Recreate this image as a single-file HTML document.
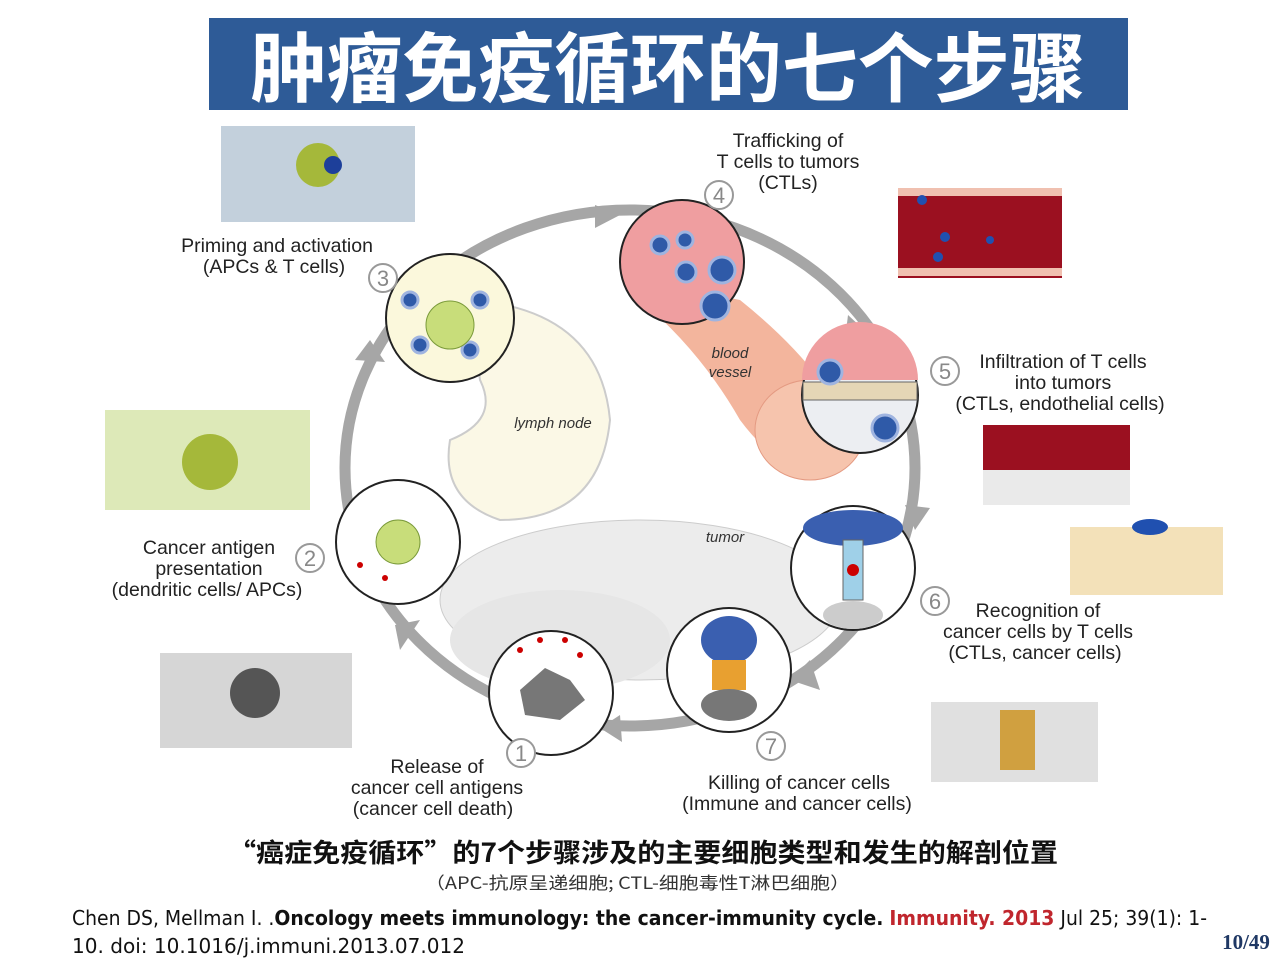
<!DOCTYPE html>
<html><head><meta charset="utf-8"><style>
body{margin:0;width:1280px;height:960px;background:#fff;overflow:hidden;font-family:"Liberation Sans","Noto Sans CJK SC",sans-serif}
</style></head><body>
<svg width="1280" height="960" viewBox="0 0 1280 960" xmlns="http://www.w3.org/2000/svg" font-family="Liberation Sans, Noto Sans CJK SC, sans-serif">
<rect x="209" y="18" width="919" height="92" fill="#2e5b97"/>
<text x="668" y="96" font-size="76" font-weight="bold" fill="#fff" text-anchor="middle" font-family="Noto Sans CJK SC, sans-serif" textLength="835" lengthAdjust="spacingAndGlyphs">肿瘤免疫循环的七个步骤</text>

<!-- tumor mass -->
<ellipse cx="640" cy="600" rx="200" ry="80" fill="#ececec" stroke="#ccc"/>
<ellipse cx="560" cy="640" rx="110" ry="50" fill="#e6e6e6"/>
<!-- lymph node -->
<path d="M470 300 Q600 310 610 420 Q600 520 500 520 Q440 500 450 440 Q500 420 480 380 Z" fill="#fbf8e6" stroke="#ccc" stroke-width="2"/>
<!-- blood vessel -->
<path d="M640 280 L740 300 Q790 340 820 380 L800 470 Q770 460 740 420 Q700 350 640 300 Z" fill="#f3b59d"/>
<ellipse cx="810" cy="430" rx="55" ry="50" fill="#f6c4ad" stroke="#e49a82"/>
<text x="730" y="358" font-size="15" font-style="italic" fill="#333" text-anchor="middle">blood</text>
<text x="730" y="377" font-size="15" font-style="italic" fill="#333" text-anchor="middle">vessel</text>
<text x="553" y="428" font-size="15" font-style="italic" fill="#333" text-anchor="middle">lymph node</text>
<text x="725" y="542" font-size="15" font-style="italic" fill="#333" text-anchor="middle">tumor</text>

<!-- ring -->
<ellipse cx="630" cy="468" rx="285" ry="258" fill="none" stroke="#a6a6a6" stroke-width="11"/>
<g fill="#a6a6a6">
<polygon points="355,360 370,340 385,362"/>
<polygon points="595,205 620,215 595,228"/>
<polygon points="848,315 875,340 845,340"/>
<polygon points="905,505 930,508 915,530"/>
<polygon points="810,660 820,690 790,680"/>
<polygon points="600,728 620,715 622,742"/>
<polygon points="395,625 420,620 400,650"/>
</g>

<!-- circles -->
<g stroke="#222" stroke-width="2">
<circle cx="450" cy="318" r="64" fill="#fbf8dc"/>
<circle cx="682" cy="262" r="62" fill="#ef9ea0"/>
<circle cx="860" cy="395" r="58" fill="#eceef2"/>
<circle cx="853" cy="568" r="62" fill="#fff"/>
<circle cx="729" cy="670" r="62" fill="#fff"/>
<circle cx="551" cy="693" r="62" fill="#fff"/>
<circle cx="398" cy="542" r="62" fill="#fff"/>
</g>
<path d="M802 380 A58 58 0 0 1 918 380 Z" fill="#ef9ea0"/>
<rect x="803" y="382" width="114" height="18" fill="#e5d6b6" stroke="#666"/>
<g fill="#2f5aa8" stroke="#9fb4e0" stroke-width="3">
<circle cx="660" cy="245" r="9"/><circle cx="685" cy="240" r="8"/><circle cx="686" cy="272" r="10"/><circle cx="722" cy="270" r="13"/><circle cx="715" cy="306" r="14"/>
<circle cx="830" cy="372" r="12"/><circle cx="885" cy="428" r="13"/>
<circle cx="410" cy="300" r="8"/><circle cx="480" cy="300" r="8"/><circle cx="420" cy="345" r="8"/><circle cx="470" cy="350" r="8"/>
</g>
<circle cx="450" cy="325" r="24" fill="#c8dd7a" stroke="#7a9a3a"/>
<circle cx="398" cy="542" r="22" fill="#c8dd7a" stroke="#7a9a3a"/>
<ellipse cx="853" cy="528" rx="50" ry="18" fill="#3a5fb0"/>
<rect x="843" y="540" width="20" height="60" fill="#9fd0e8" stroke="#666"/>
<circle cx="853" cy="570" r="6" fill="#c00"/>
<ellipse cx="853" cy="615" rx="30" ry="14" fill="#ccc"/>
<ellipse cx="729" cy="640" rx="28" ry="24" fill="#3a5fb0"/>
<rect x="712" y="660" width="34" height="30" fill="#e8a030"/>
<ellipse cx="729" cy="705" rx="28" ry="16" fill="#777"/>
<path d="M520 690 L545 668 L570 680 L585 700 L560 720 L525 715 Z" fill="#777"/>
<g fill="#c00"><circle cx="520" cy="650" r="3"/><circle cx="540" cy="640" r="3"/><circle cx="565" cy="640" r="3"/><circle cx="580" cy="655" r="3"/><circle cx="360" cy="565" r="3"/><circle cx="385" cy="578" r="3"/></g>

<!-- numbers -->
<g fill="#fff" stroke="#999" stroke-width="2"><circle cx="383" cy="278" r="14"/><circle cx="719" cy="195" r="14"/><circle cx="945" cy="371" r="14"/><circle cx="935" cy="601" r="14"/><circle cx="771" cy="746" r="14"/><circle cx="521" cy="753" r="14"/><circle cx="310" cy="558" r="14"/></g>
<g font-size="22" fill="#888" text-anchor="middle"><text x="383" y="286">3</text><text x="719" y="203">4</text><text x="945" y="379">5</text><text x="935" y="609">6</text><text x="771" y="754">7</text><text x="521" y="761">1</text><text x="310" y="566">2</text></g>

<!-- labels -->
<g font-size="19.5" fill="#222" text-anchor="middle">
<text x="788" y="147">Trafficking of</text><text x="788" y="168">T cells to tumors</text><text x="788" y="189">(CTLs)</text>
<text x="277" y="252">Priming and activation</text><text x="274" y="273">(APCs &amp; T cells)</text>
<text x="1063" y="368">Infiltration of T cells</text><text x="1063" y="389">into tumors</text><text x="1060" y="410">(CTLs, endothelial cells)</text>
<text x="209" y="554">Cancer antigen</text><text x="209" y="575">presentation</text><text x="207" y="596">(dendritic cells/ APCs)</text>
<text x="1038" y="617">Recognition of</text><text x="1038" y="638">cancer cells by T cells</text><text x="1035" y="659">(CTLs, cancer cells)</text>
<text x="437" y="773">Release of</text><text x="437" y="794">cancer cell antigens</text><text x="433" y="815">(cancer cell death)</text>
<text x="799" y="789">Killing of cancer cells</text><text x="797" y="810">(Immune and cancer cells)</text>
</g>

<!-- thumbnails -->
<rect x="221" y="126" width="194" height="96" fill="#c3d0dc"/>
<circle cx="318" cy="165" r="22" fill="#a5b83a"/><circle cx="333" cy="165" r="9" fill="#1d3f9a"/>
<rect x="105" y="410" width="205" height="100" fill="#dde9b8"/>
<circle cx="210" cy="462" r="28" fill="#a5b83a"/>
<rect x="160" y="653" width="192" height="95" fill="#d6d6d6"/>
<circle cx="255" cy="693" r="25" fill="#555"/>
<rect x="898" y="188" width="164" height="90" fill="#9b1020"/>
<rect x="898" y="188" width="164" height="8" fill="#f0c0b0"/>
<rect x="898" y="268" width="164" height="8" fill="#f0c0b0"/>
<g fill="#2050b0"><circle cx="922" cy="200" r="5"/><circle cx="945" cy="237" r="5"/><circle cx="938" cy="257" r="5"/><circle cx="990" cy="240" r="4"/></g>
<rect x="983" y="425" width="147" height="45" fill="#9b1020"/>
<rect x="983" y="470" width="147" height="35" fill="#eaeaea"/>
<rect x="1070" y="527" width="153" height="68" fill="#f3e1b9"/>
<ellipse cx="1150" cy="527" rx="18" ry="8" fill="#2050b0"/>
<rect x="931" y="702" width="167" height="80" fill="#e0e0e0"/>
<rect x="1000" y="710" width="35" height="60" fill="#d0a040"/>

<!-- caption -->
<text x="228" y="862" font-size="26" font-weight="bold" fill="#111" font-family="Noto Sans CJK SC, sans-serif" textLength="830" lengthAdjust="spacingAndGlyphs">“癌症免疫循环”的7个步骤涉及的主要细胞类型和发生的解剖位置</text>
<text x="425" y="889" font-size="17" fill="#333" font-family="Noto Sans CJK SC, sans-serif" textLength="425" lengthAdjust="spacingAndGlyphs">（APC-抗原呈递细胞; CTL-细胞毒性T淋巴细胞）</text>
<text x="72" y="925" font-size="20" fill="#111" font-family="DejaVu Sans, sans-serif" textLength="1135" lengthAdjust="spacingAndGlyphs">Chen DS, Mellman I. .<tspan font-weight="bold">Oncology meets immunology: the cancer-immunity cycle.</tspan> <tspan fill="#c0262d" font-weight="bold">Immunity. 2013</tspan> Jul 25; 39(1): 1-</text>
<text x="72" y="953" font-size="20" fill="#111" font-family="DejaVu Sans, sans-serif" textLength="393" lengthAdjust="spacingAndGlyphs">10. doi: 10.1016/j.immuni.2013.07.012</text>
<text x="1246" y="949" font-size="21" font-weight="bold" fill="#1f3864" text-anchor="middle" font-family="Liberation Serif, serif">10/49</text>
</svg>
</body></html>
